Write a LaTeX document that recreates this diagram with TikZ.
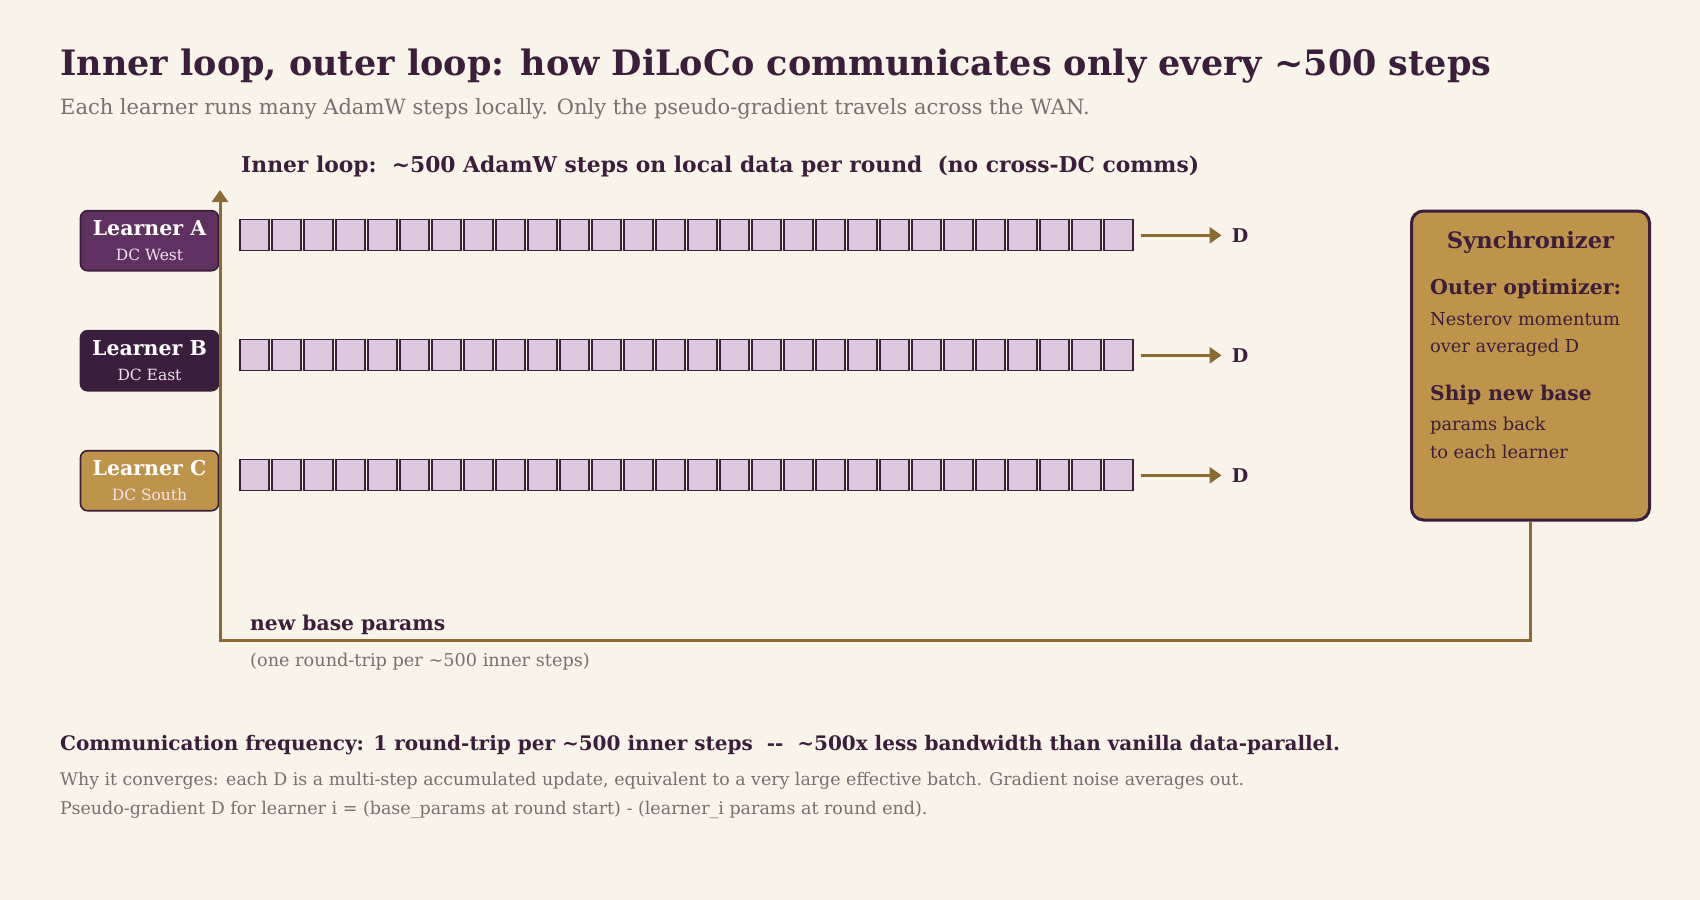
\documentclass[tikz,border=0pt]{standalone}
\usepackage{fontspec}
\setmainfont{DejaVu Serif}
\usepackage{tikz}
\usetikzlibrary{arrows.meta,positioning}

\definecolor{cream}{HTML}{F9F4EA}
\definecolor{plum}{HTML}{3B1E3B}
\definecolor{learnerA}{HTML}{5E3161}
\definecolor{learnerB}{HTML}{3B1D3D}
\definecolor{gold}{HTML}{BE944A}
\definecolor{lilac}{HTML}{DCC8DE}
\definecolor{brown}{HTML}{8C6A32}
\definecolor{greytext}{HTML}{7A6E70}
\definecolor{pale}{HTML}{EEE2EC}

\newcommand{\sz}[1]{\fontsize{#1bp}{1.2\dimexpr#1bp\relax}\selectfont}

\tikzset{
  learner/.style={draw=plum,line width=1.6bp,rounded corners=7bp,minimum width=138bp,minimum height=60bp,align=center,text=white,inner sep=0,font=\sz{20.5}},
  stepbox/.style={draw=plum,fill=lilac,line width=1.2bp,minimum width=29bp,minimum height=31bp,inner sep=0},
  flow/.style={draw=brown,line width=3bp,-{Triangle[length=12bp,width=16bp]}},
  txt/.style={anchor=base west,inner sep=0,text=plum},
}

\begin{document}
\begin{tikzpicture}

\fill[cream] (0bp,0bp) rectangle (1700bp,-900bp);
\useasboundingbox (0bp,0bp) rectangle (1700bp,-900bp);

\node (title) at (60bp,-75bp)[txt] {\sz{35}\bfseries Inner loop, outer loop: how DiLoCo communicates only every \textasciitilde500 steps};
\node (subtitle) at (60bp,-114bp)[txt,text=greytext] {\sz{21}Each learner runs many AdamW steps locally. Only the pseudo-gradient travels across the WAN.};
\node (innerhead) at (241bp,-172bp)[txt] {\sz{21.8}\bfseries Inner loop:\ \ \textasciitilde500 AdamW steps on local data per round\ \ (no cross-DC comms)};

\node (lA) at (149.5bp,-240.7bp)[learner,fill=learnerA] {\bfseries Learner A\\[0bp]{\sz{15.5}\color{pale}DC West}};
\node (lB) at (149.5bp,-360.7bp)[learner,fill=learnerB] {\bfseries Learner B\\[0bp]{\sz{15.5}\color{pale}DC East}};
\node (lC) at (149.5bp,-480.7bp)[learner,fill=gold] {\bfseries Learner C\\[0bp]{\sz{15.5}\color{pale}DC South}};

\foreach \r/\y in {A/-235.3,B/-355.3,C/-475.3}
  \foreach \i in {1,...,28}
    \node (s\r\i) at ({222.5bp+\i*32bp},{\y bp})[stepbox] {};

\node (DA) at (1240bp,-235.3bp)[inner sep=0,text=plum] {\sz{19}\bfseries D};
\node (DB) at (1240bp,-355.3bp)[inner sep=0,text=plum] {\sz{19}\bfseries D};
\node (DC) at (1240bp,-475.3bp)[inner sep=0,text=plum] {\sz{19}\bfseries D};
\draw [flow,shorten <=7bp,shorten >=10bp] (sA28) -- (DA);
\draw [flow,shorten <=7bp,shorten >=10bp] (sB28) -- (DB);
\draw [flow,shorten <=7bp,shorten >=10bp] (sC28) -- (DC);

\node (sync) at (1530.5bp,-365.5bp)[draw=plum,fill=gold,line width=3bp,rounded corners=12bp,minimum width=238bp,minimum height=309bp] {};
\node (synchead) at (1530.5bp,-248bp)[anchor=base,inner sep=0,text=plum] {\sz{22.6}\bfseries Synchronizer};
\node (outer) at (1430bp,-294bp)[txt] {\sz{20.5}\bfseries Outer optimizer:};
\node (outer1) at (1430bp,-325bp)[txt] {\sz{17.8}Nesterov momentum};
\node (outer2) at (1430bp,-352.7bp)[txt] {\sz{17.8}over averaged D};
\node (ship) at (1430bp,-400bp)[txt] {\sz{20.2}\bfseries Ship new base};
\node (ship1) at (1430bp,-430.7bp)[txt] {\sz{17.8}params back};
\node (ship2) at (1430bp,-458.7bp)[txt] {\sz{17.8}to each learner};

\coordinate (retL) at (220bp,-640bp);
\coordinate (retTop) at (220bp,-190bp);
\draw [draw=brown,line width=3bp,-{Triangle[length=12bp,width=16bp]}] (sync.south) |- (retL) -- (retTop);

\node (newbase) at (250bp,-630.7bp)[txt] {\sz{20.3}\bfseries new base params};
\node (roundtrip) at (250bp,-666bp)[txt,text=greytext] {\sz{17.7}(one round-trip per \textasciitilde500 inner steps)};

\node (freq) at (60bp,-750.7bp)[txt] {\sz{20}\bfseries Communication frequency: 1 round-trip per \textasciitilde500 inner steps\ \ -{}-\ \ \textasciitilde500x less bandwidth than vanilla data-parallel.};
\node (why) at (60bp,-785bp)[txt,text=greytext] {\sz{17.4}Why it converges: each D is a multi-step accumulated update, equivalent to a very large effective batch. Gradient noise averages out.};
\node (pseudo) at (60bp,-814bp)[txt,text=greytext] {\sz{17.5}Pseudo-gradient D for learner i = (base\_params at round start) - (learner\_i params at round end).};
\end{tikzpicture}
\end{document}
